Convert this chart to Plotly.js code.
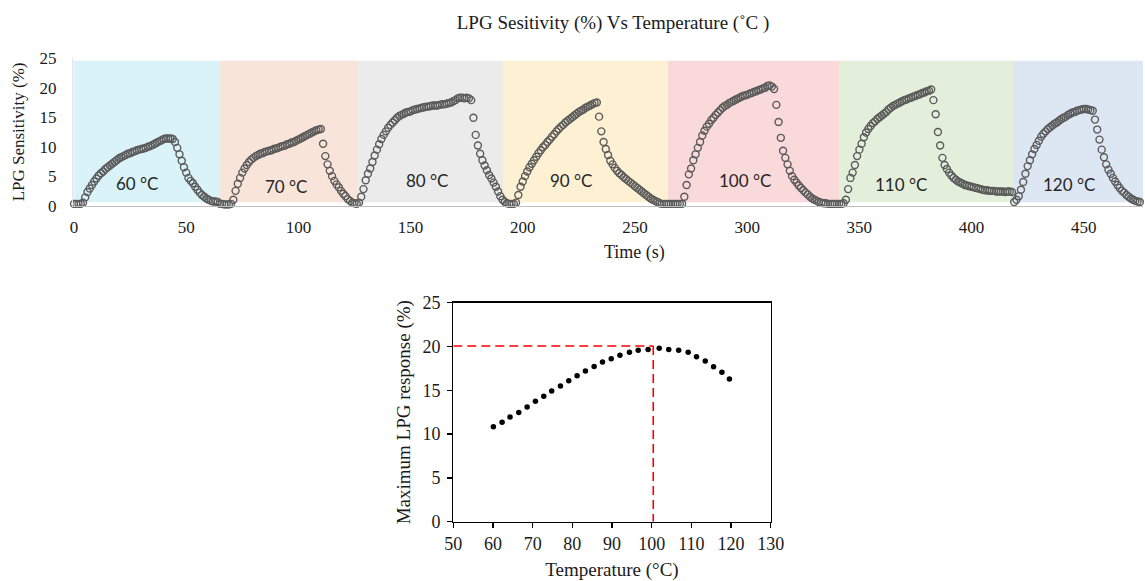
<!DOCTYPE html>
<html><head><meta charset="utf-8">
<script src="https://cdn.plot.ly/plotly-3.0.1.min.js"></script>
<style>html,body{margin:0;padding:0;background:#fff}#chart{width:1145px;height:581px}</style>
</head><body><div id="chart"></div>
<script>
// ---------- data: top chart (sensitivity vs time, 1 s sampling) ----------
const tempLabels = ['60 °C', '70 °C', '80 °C', '90 °C', '100 °C', '110 °C', '120 °C'];
const segStart = [0, 65, 127, 193, 265, 341, 420];          // s, first sample of each run
const bandEdges = [-0.3, 64.6, 126.6, 191.2, 264.7, 340.9, 418.9, 476.4]; // s
const lpg60 = [0.3,0.3,0.3,0.3,0.5, 1.4,2.3,2.9,3.5,4.1, 4.6,5.1,5.5,5.8,6.2, 6.5,6.8,7.1,7.4,7.7,
  8.0,8.2,8.4,8.6,8.8, 8.9,9.1,9.2,9.4,9.5, 9.6,9.7,9.8,10.0,10.1, 10.3,10.5,10.7,10.9,11.1,
  11.3,11.4,11.4,11.4,11.3, 10.8,9.8,8.7,7.6,6.5, 5.6,4.7,4.2,3.8,3.2, 2.7,2.2,1.8,1.5,1.2, 1.0,0.8,0.7,0.7,0.6];
const lpg70 = [0.3,0.3,0.2,0.2,0.2, 0.3,1.0,2.5,3.7,4.7, 5.6,6.3,6.9,7.4,7.8, 8.1,8.4,8.6,8.8,8.9,
  9.1,9.2,9.3,9.4,9.6, 9.7,9.8,10.0,10.1,10.2, 10.4,10.5,10.7,10.8,11.0, 11.2,11.4,11.6,11.8,12.0,
  12.2,12.4,12.6,12.8,12.9, 13.0, 10.5,8.4,7.0,5.9,5.0, 4.2,3.6,3.1,2.5,2.0, 1.6,1.1,0.8,0.5,0.4, 0.3];
const lpg80 = [0.5,1.5,2.8,4.3,5.4, 6.3,7.4,8.5,9.5,10.4, 11.3,12.0,12.6,13.2,13.7, 14.1,14.5,14.9,15.2,15.4,
  15.6,15.8,15.9,16.0,16.2, 16.3,16.4,16.5,16.6,16.7, 16.8,16.8,16.9,17.0,17.0, 17.0,17.1,17.2,17.2,17.3,
  17.4,17.5,17.7,17.9,18.2, 18.3,18.3,18.2,18.3,18.2, 17.9,
  14.9,12.0,10.2,8.8,7.7, 6.8,6.0,5.2,4.6,3.9, 3.2,2.4,1.6,1.0,0.6];
const lpg90 = [0.4,0.3,0.3,0.3,0.5, 1.8,3.2,4.1,5.0,5.8, 6.5,7.1,7.7,8.3,8.9, 9.4,9.9,10.3,10.8,11.2,
  11.7,12.1,12.6,13.0,13.4, 13.7,14.1,14.4,14.7,15.0, 15.3,15.6,15.9,16.1,16.3, 16.6,16.8,17.0,17.2,17.4, 17.5,
  15.1,12.6,10.8,9.6,8.6, 7.6,7.0,6.4,5.9,5.5, 5.2,4.8,4.5,4.2,3.9, 3.6,3.3,3.0,2.7,2.4,
  2.1,1.8,1.5,1.2,1.0, 0.8,0.6,0.4,0.3,0.3, 0.3];
const lpg100 = [0.3,0.3,0.3,0.3,0.3,0.3,0.3, 1.5,3.5,5.3,6.3,7.7, 8.7,9.8,10.8,11.9,12.7, 13.4,13.9,14.5,14.9,15.4,
  15.8,16.2,16.6,16.9,17.1, 17.4,17.6,17.8,18.0,18.2, 18.4,18.6,18.7,18.8,19.0, 19.1,19.3,19.4,19.6,19.7,
  19.9,20.0,20.3,20.4,20.2, 19.8,
  17.1,14.2,11.5,9.3,8.1, 7.0,5.9,5.0,4.4,3.9, 3.4,3.0,2.6,2.2,1.9, 1.5,1.2,1.0,0.8,0.6,
  0.5,0.4,0.4,0.3,0.3, 0.3,0.3,0.3];
const lpg110 = [0.3,0.3,0.4, 1.0,2.8,4.7,5.6,6.9, 8.4,9.5,10.5,11.6,12.4, 13.0,13.5,14.0,14.3,14.7, 15.0,15.3,15.6,15.9,16.3,
  16.6,16.9,17.1,17.3,17.5, 17.7,17.9,18.0,18.2,18.3, 18.5,18.6,18.8,18.9,19.1, 19.2,19.4,19.5,19.7,
  17.9,15.5,12.5,10.2,8.1, 6.9,6.2,5.6,5.1,4.7, 4.4,4.1,3.9,3.7,3.5, 3.4,3.3,3.2,3.1,3.0,
  2.9,2.8,2.7,2.6,2.6, 2.5,2.5,2.5,2.4,2.4, 2.4,2.4,2.3,2.4,2.4, 2.3,0.6];
const lpg120 = [1.0,1.6,2.7,4.0,5.4, 6.7,7.7,8.7,9.6,10.3, 11.0,11.7,12.2,12.6,13.0, 13.3,13.6,13.9,14.1,14.4,
  14.7,14.9,15.1,15.4,15.6, 15.8,15.9,16.1,16.2,16.3, 16.4,16.4,16.3,16.2,16.1,
  14.6,12.9,11.2,9.5,8.2, 7.0,6.1,5.4,4.7,4.1, 3.5,3.0,2.5,2.2,1.8, 1.5,1.2,1.0,0.8,0.7, 0.6];
const runs = [lpg60, lpg70, lpg80, lpg90, lpg100, lpg110, lpg120];

// ---------- data: bottom chart (maximum response vs temperature) ----------
const maxTemp = [60.1,62.3,64.3,66.5,68.6,70.7,72.8,74.8,77.0,79.1,81.2,83.3,85.5,87.6,89.8,92.0,94.4,96.6,99.1,101.9,104.3,106.8,109.2,111.3,113.5,115.6,117.7,119.6];
const maxResp = [10.84,11.34,11.95,12.48,13.09,13.74,14.31,14.92,15.49,16.10,16.67,17.20,17.73,18.23,18.61,18.99,19.33,19.56,19.67,19.79,19.67,19.56,19.33,18.84,18.34,17.69,17.05,16.29];
const peakTemp = 100.4, peakResp = 20.05;

// ---------- build ----------
const W = 1145, H = 581;
const bandColors = ['#daf3f8','#f8e4d9','#ebebeb','#fdf0d3','#f9d9d9','#e3efdb','#dde6f3'];
const labelPos = [[28.1,3.67],[94.5,3.16],[157.3,4.18],[221.5,4.18],[299,4.18],[368.5,3.5],[443.4,3.5]];

const tx = [], ty = [];
runs.forEach((arr, k) => arr.forEach((v, i) => { tx.push(segStart[k] + i); ty.push(v); }));

const shapes = bandColors.map((c, k) => ({
  type: 'rect', xref: 'x', yref: 'y', layer: 'below',
  x0: bandEdges[k], x1: bandEdges[k + 1], y0: 0.55, y1: 24.6,
  fillcolor: c, line: { width: 0 }
}));

const annotations = tempLabels.map((t, k) => ({
  text: t, xref: 'x', yref: 'y', x: labelPos[k][0], y: labelPos[k][1],
  showarrow: false, xanchor: 'center', yanchor: 'middle',
  font: { family: 'Lato, Noto Sans, sans-serif', size: 17, color: '#262626' }
}));
annotations.push({
  text: 'Time (s)', xref: 'paper', yref: 'paper', x: 634 / W, y: 1 - 253 / H,
  showarrow: false, xanchor: 'center', yanchor: 'middle',
  font: { family: 'Liberation Serif, serif', size: 18, color: '#1a1a1a' }
});

const traces = [
  { x: tx, y: ty, xaxis: 'x', yaxis: 'y', type: 'scatter', mode: 'markers', cliponaxis: false,
    marker: { symbol: 'circle-open', size: 7, color: '#5a5a5a', line: { width: 1.4 } }, hoverinfo: 'skip' },
  { x: [50, peakTemp], y: [peakResp, peakResp], xaxis: 'x2', yaxis: 'y2', type: 'scatter', mode: 'lines',
    line: { color: '#ff0000', width: 1.6, dash: '9px,5px' }, cliponaxis: false },
  { x: [peakTemp, peakTemp], y: [peakResp, 0], xaxis: 'x2', yaxis: 'y2', type: 'scatter', mode: 'lines',
    line: { color: '#ff0000', width: 1.6, dash: '9px,5px' }, cliponaxis: false },
  { x: maxTemp, y: maxResp, xaxis: 'x2', yaxis: 'y2', type: 'scatter', mode: 'markers',
    marker: { size: 5.5, color: '#000' }, cliponaxis: false }
];

const serif = 'Liberation Serif, Times New Roman, serif';
const layout = {
  width: W, height: H, margin: { l: 0, r: 0, t: 0, b: 0 },
  paper_bgcolor: '#fff', plot_bgcolor: 'rgba(0,0,0,0)', showlegend: false,
  font: { family: serif, color: '#1a1a1a' },
  title: { text: 'LPG Sesitivity (%) Vs Temperature (˚C )', font: { family: serif, size: 19, color: '#1a1a1a' },
    x: 613 / W, xanchor: 'center', y: 1 - 22 / H, yanchor: 'middle' },
  xaxis: { domain: [73 / W, 1143 / W], range: [-0.45, 476.4], tick0: 0, dtick: 50, ticks: '',
    showgrid: false, zeroline: false, showline: true, linecolor: '#bfbfbf', linewidth: 1,
    tickfont: { size: 17 }, ticklabelstandoff: 6, anchor: 'y' },
  yaxis: { domain: [1 - 205.6 / H, 1 - 58.3 / H], range: [0, 25], dtick: 5, ticks: '',
    showgrid: false, zeroline: false, showline: true, linecolor: '#e6e6e6', linewidth: 1,
    tickfont: { size: 17 }, ticklabelstandoff: 12, anchor: 'x',
    title: { text: 'LPG Sensitivity (%)', font: { size: 17 }, standoff: 10 } },
  xaxis2: { domain: [453.3 / W, 770.7 / W], range: [50, 130], dtick: 10, ticks: 'outside', ticklen: 5,
    tickcolor: '#000', tickwidth: 1.3, showline: true, mirror: true, linecolor: '#000', linewidth: 1.3,
    showgrid: false, zeroline: false, tickfont: { size: 18 }, anchor: 'y2',
    title: { text: 'Temperature (°C)', font: { size: 19 }, standoff: 10 } },
  yaxis2: { domain: [1 - 521.7 / H, 1 - 302.7 / H], range: [0, 25], dtick: 5, ticks: 'outside', ticklen: 5,
    tickcolor: '#000', tickwidth: 1.3, showline: true, mirror: true, linecolor: '#000', linewidth: 1.3,
    showgrid: false, zeroline: false, tickfont: { size: 18 }, ticklabelstandoff: 3, anchor: 'x2',
    title: { text: 'Maximum LPG response (%)', font: { size: 19 }, standoff: 6 } },
  shapes: shapes, annotations: annotations
};

Plotly.newPlot('chart', traces, layout, { displayModeBar: false, staticPlot: true });
</script></body></html>
